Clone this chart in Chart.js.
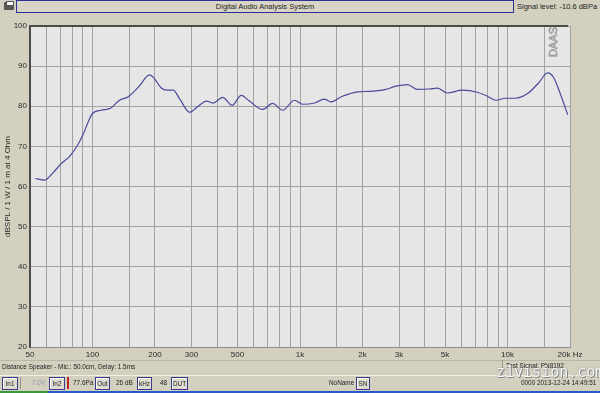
<!DOCTYPE html>
<html>
<head>
<meta charset="utf-8">
<title>Digital Audio Analysis System</title>
<script src="https://cdn.jsdelivr.net/npm/chart.js@4"></script>
<style>
  html, body { margin: 0; padding: 0; }
  body { width: 600px; height: 393px; background: #d3d0bf; font-family: "Liberation Sans", Arial, sans-serif; color: #222; position: relative; overflow: hidden; }
  .abs { position: absolute; white-space: nowrap; }
  #chartBox { position: absolute; left: 0; top: 0; width: 600px; height: 393px; }
  .txt { font-size: 7.5px; line-height: 10px; }
  .sm { font-size: 6.4px; line-height: 10px; }
  .btn { position: absolute; top: 377px; height: 11px; border: 1px solid #3a3a8c; background: #dedbd0; font-size: 6.4px; line-height: 11px; text-align: center; box-shadow: inset 1px 1px 0 #fff; }
</style>
</head>
<body>
<!-- top bar -->
<div class="abs" style="left:4px;top:2px;width:10px;height:8px;background:#555;border-radius:1px;"></div>
<div class="abs" style="left:6px;top:1px;width:6px;height:3px;background:#fff;border:1px solid #555;"></div>
<div class="abs txt" style="left:16px;top:0px;width:496px;height:11px;border:1px solid #2e2e96;background:#d8d5c6;text-align:center;line-height:11px;">Digital Audio Analysis System</div>
<div class="abs txt" style="left:517px;top:1px;line-height:11px;">Signal level: -10.6 dBPa</div>

<div id="chartBox"><canvas id="fr"></canvas></div>

<!-- status bars -->
<div class="abs" style="left:0;top:360px;width:600px;height:14px;border-top:1px solid #b9b6a6;border-bottom:1px solid #f2f0e6;"></div>
<div class="abs" style="left:502px;top:360px;width:1px;height:15px;background:#9c998b;"></div>
<div class="abs sm" style="left:2px;top:362px;">Distance Speaker - Mic.: 50.0cm, Delay: 1.5ms</div>
<div class="abs sm" style="left:506px;top:361px;">Test Signal: PN8192</div>

<div class="btn" style="left:2px;width:14px;">In1</div>
<div class="abs" style="left:20px;top:377px;width:1px;height:12px;background:#9c998b;"></div>
<div class="abs sm" style="left:32px;top:378px;color:#8a9aa8;">7.0V</div>
<div class="btn" style="left:49px;width:14px;">In2</div>
<div class="abs" style="left:67px;top:377px;width:2px;height:12px;background:#c02020;"></div>
<div class="abs sm" style="left:73px;top:378px;">77.6Pa</div>
<div class="btn" style="left:95px;width:13px;">Out</div>
<div class="abs sm" style="left:116px;top:378px;">26 dB</div>
<div class="btn" style="left:137px;width:13px;">kHz</div>
<div class="abs sm" style="left:160px;top:378px;">48</div>
<div class="btn" style="left:171px;width:15px;">DUT</div>
<div class="abs sm" style="left:329px;top:378px;">NoName</div>
<div class="btn" style="left:356px;width:12px;">SN</div>
<div class="abs" style="left:496px;top:363px;font-family:'DejaVu Sans Mono',monospace;font-size:15px;line-height:18px;color:#fafafa;text-shadow:0 0 1px #666, 1px 1px 0 #888;">z1vision.com</div>
<div class="abs sm" style="left:521px;top:378px;">0000 2013-12-24 14:49:51</div>
<div class="abs" style="left:0;top:391px;width:600px;height:2px;background:#2a58c8;"></div>
<div class="abs" style="left:0;top:391px;width:48px;height:2px;background:#3a9a3a;"></div>

<script>
// frequency response (Hz, dB SPL)
const freqs = [53, 58.8, 64.5, 70.7, 77.6, 85, 90, 95, 100, 110, 122, 135, 148, 168, 188, 198, 214, 230, 245, 264,
  294, 323, 354, 381, 424, 471, 521, 570, 661, 738, 825, 940, 1030, 1175, 1310, 1410, 1600, 1900, 2150, 2600,
  2900, 3300, 3680, 4200, 4600, 5120, 6050, 7150, 8000, 8800, 9770, 10900, 12600, 14100, 15600, 16700, 17900, 19500];
const spl = [62.0, 61.6, 63.4, 65.7, 67.5, 70.4, 72.9, 75.9, 78.2, 79.0, 79.5, 81.5, 82.3, 85.0, 87.8, 87.0, 84.6, 84.0, 84.0, 81.7,
  78.5, 80.0, 81.3, 80.8, 82.2, 80.2, 82.7, 81.3, 79.2, 80.7, 79.0, 81.5, 80.5, 80.8, 81.8, 81.1, 82.5, 83.6, 83.7, 84.2,
  85.0, 85.4, 84.2, 84.3, 84.5, 83.3, 84.0, 83.5, 82.5, 81.5, 82.0, 82.0, 83.3, 85.8, 88.3, 87.1, 83.3, 77.9];

// grid lines on the frequency axis and the ones that get a label
const gridFreqs = [50, 60, 70, 80, 90, 100, 150, 200, 300, 400, 500, 600, 700, 800, 900, 1000, 1500, 2000,
  3000, 4000, 5000, 6000, 7000, 8000, 9000, 10000, 15000, 20000];
const freqLabels = { 50: '50', 100: '100', 200: '200', 300: '300', 500: '500', 1000: '1k', 2000: '2k',
  3000: '3k', 5000: '5k', 10000: '10k', 20000: '20k Hz' };
const yTitle = 'dBSPL / 1 W / 1 m at 4 Ohm';

const points = freqs.map((f, i) => ({ x: f, y: spl[i] }));

// plot background, sunken frame and the DAAS mark
const plotFrame = {
  id: 'plotFrame',
  beforeDraw(chart) {
    const { ctx, chartArea: a } = chart;
    ctx.save();
    ctx.fillStyle = '#e6e6e6';
    ctx.fillRect(a.left, a.top, a.right - a.left, a.bottom - a.top);
    ctx.restore();
  },
  afterDraw(chart) {
    const { ctx, chartArea: a } = chart;
    ctx.save();
    ctx.strokeStyle = '#4c4c4c';
    ctx.lineWidth = 2;
    ctx.beginPath();
    ctx.moveTo(a.left, a.bottom + 1);
    ctx.lineTo(a.left, a.top);
    ctx.lineTo(a.right - 2, a.top);
    ctx.stroke();
    ctx.translate(a.right - 16, a.top + 16);
    ctx.rotate(-Math.PI / 2);
    ctx.font = '11px "Liberation Sans", Arial';
    ctx.textAlign = 'center';
    ctx.textBaseline = 'middle';
    ctx.strokeStyle = '#8a8a8a';
    ctx.lineWidth = 0.6;
    ctx.strokeText('DAAS', 0, 0);
    ctx.restore();
  }
};

const ctx = document.getElementById('fr').getContext('2d');
new Chart(ctx, {
  type: 'line',
  data: {
    datasets: [{
      label: 'SPL',
      data: points,
      borderColor: '#4a4a9c',
      borderWidth: 1.2,
      pointRadius: 0,
      fill: false,
      cubicInterpolationMode: 'monotone'
    }]
  },
  options: {
    responsive: true,
    maintainAspectRatio: false,
    devicePixelRatio: 1,
    animation: false,
    layout: { padding: { left: 0, top: 26, right: 30, bottom: 32 } },
    plugins: {
      legend: { display: false },
      tooltip: { enabled: false }
    },
    scales: {
      x: {
        type: 'logarithmic',
        min: 50,
        max: 20000,
        afterBuildTicks: scale => { scale.ticks = gridFreqs.map(v => ({ value: v })); },
        afterFit: scale => { scale.height = 14; },
        grid: { color: '#a2a2a2', lineWidth: 1, drawTicks: false },
        border: { color: '#8c8c8c', width: 1 },
        ticks: {
          autoSkip: false,
          maxRotation: 0,
          padding: 3,
          color: '#2a2a2a',
          font: { family: '"Liberation Sans", Arial', size: 8 },
          callback: v => freqLabels[v] || ''
        }
      },
      y: {
        min: 20,
        max: 100,
        afterFit: scale => { scale.width = 30; },
        grid: { color: '#a2a2a2', lineWidth: 1, drawTicks: false },
        border: { color: '#4c4c4c', width: 2 },
        ticks: {
          stepSize: 10,
          padding: 3,
          color: '#2a2a2a',
          font: { family: '"Liberation Sans", Arial', size: 8 }
        },
        title: {
          display: true,
          text: yTitle,
          color: '#2a2a2a',
          font: { family: '"Liberation Sans", Arial', size: 8 },
          padding: { top: 3, bottom: 2 }
        }
      }
    }
  },
  plugins: [plotFrame]
});
</script>
</body>
</html>
